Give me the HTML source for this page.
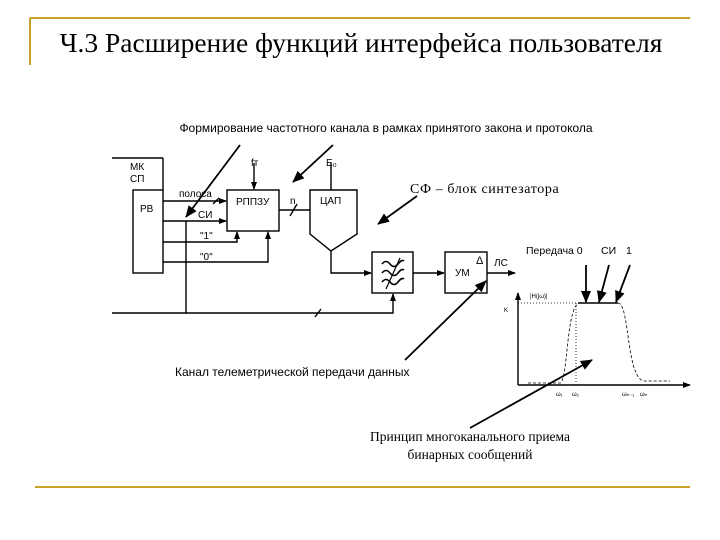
<!DOCTYPE html>
<html><head><meta charset="utf-8"><style>
html,body{margin:0;padding:0;background:#fff;}
svg{display:block;}
</style></head><body>
<svg width="720" height="540" viewBox="0 0 720 540" xmlns="http://www.w3.org/2000/svg">
<defs>
<marker id="a" markerWidth="8" markerHeight="8" refX="7" refY="4" orient="auto" markerUnits="userSpaceOnUse"><path d="M0,1 L8,4 L0,7 Z" fill="#000"/></marker>
<marker id="b" markerWidth="12" markerHeight="10" refX="11" refY="5" orient="auto" markerUnits="userSpaceOnUse"><path d="M0,0 L12,5 L0,10 Z" fill="#000"/></marker>
</defs>
<g stroke="#c9a227" stroke-width="2" fill="none">
<line x1="30" y1="18" x2="690" y2="18"/>
<line x1="30" y1="18" x2="30" y2="65"/>
<line x1="35" y1="487" x2="690" y2="487"/>
</g>
<text x="361" y="52" text-anchor="middle" font-family="Liberation Serif, serif" font-size="27.5" fill="#000">Ч.3 Расширение функций интерфейса пользователя</text>
<text x="386" y="132" text-anchor="middle" font-family="Liberation Sans, sans-serif" font-size="12" fill="#000">Формирование частотного канала в рамках принятого закона и протокола</text>
<text x="410" y="193" font-family="Liberation Serif, serif" font-size="14" letter-spacing="0.6" fill="#000">СФ – блок синтезатора</text>
<text x="175" y="376" font-family="Liberation Sans, sans-serif" font-size="12" fill="#000">Канал телеметрической передачи данных</text>
<text x="470" y="441" text-anchor="middle" font-family="Liberation Serif, serif" font-size="13.5" fill="#000">Принцип многоканального приема</text>
<text x="470" y="459" text-anchor="middle" font-family="Liberation Serif, serif" font-size="13.5" fill="#000">бинарных сообщений</text>
<g stroke="#000" stroke-width="1.4" fill="none">
<line x1="112" y1="158" x2="163" y2="158"/>
<line x1="163" y1="158" x2="163" y2="190"/>
<line x1="112" y1="313" x2="186" y2="313"/>
<rect x="133" y="190" width="30" height="83"/>
<line x1="163" y1="201" x2="226" y2="201" marker-end="url(#a)"/>
<line x1="163" y1="221" x2="226" y2="221" marker-end="url(#a)"/>
<polyline points="163,242 237,242 237,232" marker-end="url(#a)"/>
<polyline points="163,262 268,262 268,232" marker-end="url(#a)"/>
<rect x="227" y="190" width="52" height="41"/>
<line x1="254" y1="163" x2="254" y2="189" marker-end="url(#a)"/>
<line x1="279" y1="210" x2="310" y2="210"/>
<line x1="290" y1="216" x2="297" y2="204"/>
<line x1="213" y1="204" x2="219" y2="198"/>
<path d="M310,190 L357,190 L357,234 L331,251 L310,234 Z"/>
<line x1="331" y1="163" x2="331" y2="190"/>
<polyline points="331,251 331,273 371,273" marker-end="url(#a)"/>
<polyline points="186,221 186,313 393,313 393,294" marker-end="url(#a)"/>
<line x1="315" y1="317" x2="321" y2="309"/>
<rect x="372" y="252" width="41" height="41"/>
<line x1="413" y1="273" x2="444" y2="273" marker-end="url(#a)"/>
<rect x="445" y="252" width="42" height="41"/>
<line x1="487" y1="273" x2="515" y2="273" marker-end="url(#a)"/>
<line x1="518" y1="385" x2="518" y2="293" marker-end="url(#a)"/>
<line x1="518" y1="385" x2="690" y2="385" marker-end="url(#a)"/>
<line x1="578" y1="303" x2="618" y2="303"/>
<line x1="518" y1="303" x2="578" y2="303" stroke-dasharray="1,2" stroke-width="0.8"/>
<line x1="576" y1="303" x2="576" y2="385" stroke-dasharray="1,2" stroke-width="0.8"/>
<path d="M528,383 L560,383 C568,383 566,303 580,303" stroke-dasharray="3,2" stroke-width="0.8"/>
<path d="M618,303 C630,303 626,381 645,381 L670,381" stroke-dasharray="3,2" stroke-width="0.8"/>
</g>
<g stroke="#000" stroke-width="1.6" fill="none">
<path d="M382,264 q4,-5 8,0 t8,0 t6,-3"/>
<path d="M382,273 q4,-5 8,0 t8,0 t6,-3"/>
<path d="M382,282 q4,-5 8,0 t8,0 t6,-3"/>
<line x1="400" y1="258" x2="386" y2="289" stroke-width="1.2"/>
</g>
<g stroke="#000" stroke-width="1.8" fill="none">
<line x1="240" y1="145" x2="186" y2="217" marker-end="url(#b)"/>
<line x1="333" y1="145" x2="293" y2="182" marker-end="url(#b)"/>
<line x1="417" y1="196" x2="378" y2="224" marker-end="url(#b)"/>
<line x1="405" y1="360" x2="486" y2="281" marker-end="url(#b)"/>
<line x1="470" y1="428" x2="592" y2="360" marker-end="url(#b)"/>
<line x1="586" y1="265" x2="586" y2="302" marker-end="url(#b)"/>
<line x1="609" y1="265" x2="599" y2="302" marker-end="url(#b)"/>
<line x1="630" y1="265" x2="616" y2="302" marker-end="url(#b)"/>
</g>
<g font-family="Liberation Sans, sans-serif" font-size="10" fill="#000">
<text x="130" y="170">МК</text>
<text x="130" y="182">СП</text>
<text x="140" y="212">РВ</text>
<text x="179" y="197">полоса</text>
<text x="198" y="218">СИ</text>
<text x="200" y="239">"1"</text>
<text x="200" y="260">"0"</text>
<text x="236" y="205">РППЗУ</text>
<text x="251" y="166">fт</text>
<text x="326" y="166">E₀</text>
<text x="290" y="204">n</text>
<text x="320" y="204">ЦАП</text>
<text x="455" y="276">УМ</text>
<text x="476" y="264" font-size="11">Δ</text>
<text x="494" y="266">ЛС</text>
<text x="526" y="254" font-size="10.5">Передача 0</text>
<text x="601" y="254" font-size="10.5">СИ</text>
<text x="626" y="254" font-size="10.5">1</text>
<text x="530" y="298" font-size="6">|H(jω)|</text>
<text x="504" y="312" font-size="6">K</text>
<text x="556" y="396" font-size="6">ω₁</text>
<text x="572" y="396" font-size="6">ω₂</text>
<text x="622" y="396" font-size="6">ωₙ₋₁</text>
<text x="640" y="396" font-size="6">ωₙ</text>
</g>
</svg>
</body></html>
